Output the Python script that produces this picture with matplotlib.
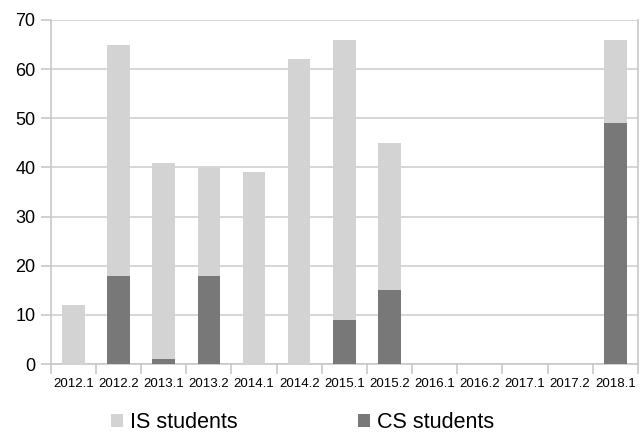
import matplotlib
matplotlib.use("Agg")
import matplotlib.pyplot as plt
import numpy as np

categories = ["2012.1", "2012.2", "2013.1", "2013.2", "2014.1", "2014.2", "2015.1",
              "2015.2", "2016.1", "2016.2", "2017.1", "2017.2", "2018.1"]
cs_students = [0, 18, 1, 18, 0, 0, 9, 15, 0, 0, 0, 0, 49]
is_students = [12, 47, 40, 22, 39, 62, 57, 30, 0, 0, 0, 0, 17]

plt.rcParams['font.family'] = ['Liberation Sans', 'DejaVu Sans']

fig = plt.figure(figsize=(6.43, 4.34), dpi=100)
ax = fig.add_axes([0.079, 0.161, 0.913, 0.793])

x = np.arange(len(categories))
light = "#d3d3d3"
dark = "#787878"
ax.bar(x, cs_students, width=0.5, color=dark, label="CS students", zorder=3)
ax.bar(x, is_students, width=0.5, bottom=cs_students, color=light, label="IS students", zorder=3)

ax.set_xlim(-0.5, len(categories) - 0.5)
ax.set_ylim(0, 70)
ax.set_yticks(range(0, 71, 10))
ax.yaxis.grid(True, color="#d0d0d0", linewidth=1.2, zorder=0)
ax.set_axisbelow(True)

ax.set_xticks(x)
ax.set_xticklabels(categories, fontsize=9.5)
ax.tick_params(axis='x', length=0, pad=10)
ax.set_xticks(np.arange(-0.5, len(categories), 1), minor=True)
ax.tick_params(axis='x', which='minor', length=7, color="#c8c8c8", width=1.2)
ax.tick_params(axis='y', labelsize=13, length=7, color="#c8c8c8", width=1.2, pad=4)

for s in ["left", "right", "bottom", "top"]:
    ax.spines[s].set_color("#c8c8c8")
    ax.spines[s].set_linewidth(1.2)
ax.spines["top"].set_visible(False)

handles, labels = ax.get_legend_handles_labels()
fig.legend([handles[1], handles[0]], [labels[1], labels[0]], loc="center left",
           bbox_to_anchor=(0.172, 0.026), ncol=2, frameon=False, fontsize=15.5,
           handlelength=0.56, handleheight=0.56, handletextpad=0.33, columnspacing=5.6,
           borderpad=0, borderaxespad=0)

fig.savefig("out.png", dpi=100)
